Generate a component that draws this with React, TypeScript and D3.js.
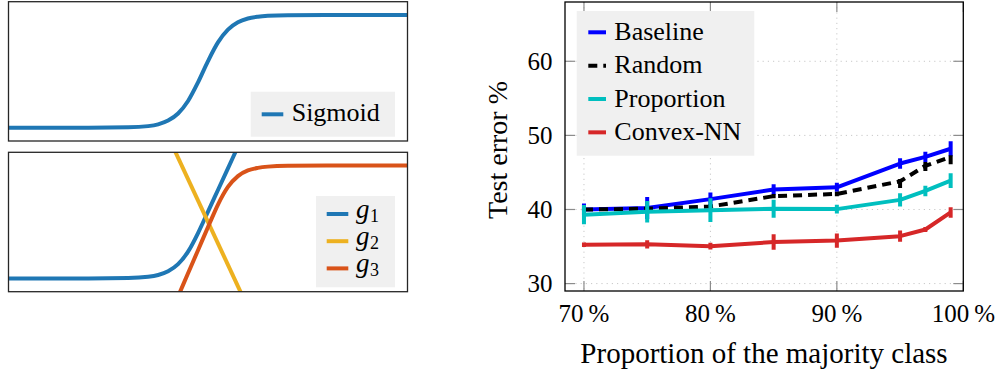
import React from "react";
import * as d3 from "d3";

// ---------- Left panels: function curves ----------
const sigmoidX = [-5, -3, -2, -1.5, -1.25, -1, -0.75, -0.5, -0.25, 0, 0.25, 0.5, 0.75, 1, 1.25, 1.5, 2, 3, 5];
const sigmoidY = [0, 0.0001, 0.003, 0.014, 0.03, 0.063, 0.126, 0.237, 0.402, 0.591, 0.757, 0.87, 0.935, 0.969, 0.985, 0.993, 0.9985, 1, 1];

const g1X = [-5, -3, -2, -1.5, -1.25, -1, -0.75, -0.5, -0.25, -0.12, 0, 0.25, 0.5, 0.75, 1];
const g1Y = [0, 0.0001, 0.003, 0.014, 0.03, 0.063, 0.126, 0.237, 0.402, 0.5, 0.592, 0.784, 0.976, 1.168, 1.36];

const g2X = [-1, 1];
const g2Y = [1.26, -0.26];

const g3X = [-1, -0.75, -0.5, -0.25, 0.055, 0.25, 0.5, 0.75, 1, 1.25, 1.5, 2, 3, 5];
const g3Y = [-0.365, -0.16, 0.045, 0.25, 0.5, 0.655, 0.811, 0.907, 0.957, 0.98, 0.991, 0.998, 1, 1];

const topLegend = ["Sigmoid"];
const bottomLegend = ["1", "2", "3"];

// ---------- Right panel: test error vs proportion ----------
const proportions = [70, 75, 80, 85, 90, 95, 97, 99];
const baselineVals = [40.0, 40.2, 41.4, 42.7, 43.0, 46.2, 47.1, 48.2];
const baselineErr = [0.8, 1.5, 0.9, 0.7, 0.6, 0.7, 0.7, 1.0];
const randomVals = [40.0, 40.1, 40.4, 41.8, 42.1, 43.8, 45.9, 47.1];
const randomErr = [0.3, 0.3, 0.3, 0.3, 0.3, 0.9, 0.7, 1.0];
const proportionVals = [39.3, 39.7, 39.9, 40.1, 40.05, 41.3, 42.5, 43.9];
const proportionErr = [1.3, 1.45, 1.6, 1.2, 0.6, 0.9, 0.7, 1.0];
const convexVals = [35.25, 35.3, 35.05, 35.6, 35.8, 36.4, 37.3, 39.6];
const convexErr = [0.3, 0.55, 0.45, 1.05, 0.95, 0.75, 0.35, 0.7];

const seriesNames = ["Baseline", "Random", "Proportion", "Convex-NN"];
const xTicks = [70, 80, 90, 100];
const xTickLabels = ["70\u2009%", "80\u2009%", "90\u2009%", "100\u2009%"];
const yTicks = [30, 40, 50, 60];

const SERIF = "Liberation Serif";

function zip(xs: number[], ys: number[]): [number, number][] {
  return xs.map((x, i) => [x, ys[i]]);
}

function T(props: any) {
  const { children, style, ...rest } = props;
  return (
    <text fontFamily={SERIF} fill="#000" {...rest} style={{ fontFamily: SERIF, ...(style || {}) }}>
      {children}
    </text>
  );
}

export default function App() {
  const lx = d3.scaleLinear().domain([-5, 5]).range([8.5, 407.5]);
  const lyTop = d3.scaleLinear().domain([-0.118, 1.118]).range([141, 1.7]);
  const lyBot = d3.scaleLinear().domain([-0.118, 1.118]).range([291.7, 152.3]);
  const lineTop = d3.line<[number, number]>().x((d) => lx(d[0])).y((d) => lyTop(d[1])).curve(d3.curveMonotoneX);
  const lineBot = d3.line<[number, number]>().x((d) => lx(d[0])).y((d) => lyBot(d[1])).curve(d3.curveMonotoneX);

  const cBlue = "#1f77b4";
  const cYellow = "#edb120";
  const cOrange = "#d95319";

  const x = d3.scaleLinear().domain([68.5, 100]).range([565, 963.3]);
  const y = d3.scaleLinear().domain([29, 68]).range([291, 2]);
  const [x0, x1] = x.range();
  const [y0, y1] = y.range();

  const series = [
    { name: seriesNames[0], vals: baselineVals, err: baselineErr, color: "#0000ff", dash: undefined as string | undefined },
    { name: seriesNames[1], vals: randomVals, err: randomErr, color: "#000000", dash: "9 6" },
    { name: seriesNames[2], vals: proportionVals, err: proportionErr, color: "#00bfbf", dash: undefined },
    { name: seriesNames[3], vals: convexVals, err: convexErr, color: "#d62728", dash: undefined },
  ];
  const rLine = d3.line<number>().x((_, i) => x(proportions[i])).y((d) => y(d));
  const gLegendColors = [cBlue, cYellow, cOrange];

  return (
    <svg width={1003} height={375} style={{ position: "absolute", left: 0, top: 0, background: "#fff" }}>
      <defs>
        <clipPath id="clipTop">
          <rect x={8.5} y={1.7} width={399} height={139.3} />
        </clipPath>
        <clipPath id="clipBot">
          <rect x={8.5} y={152.3} width={399} height={139.4} />
        </clipPath>
        <clipPath id="clipRight">
          <rect x={x0} y={y1} width={x1 - x0} height={y0 - y1} />
        </clipPath>
      </defs>

      {/* ---------- Top-left panel ---------- */}
      <g clipPath="url(#clipTop)">
        <path d={lineTop(zip(sigmoidX, sigmoidY)) || ""} fill="none" stroke={cBlue} strokeWidth={4} />
      </g>
      <rect x={8.5} y={1.7} width={399} height={139.3} fill="none" stroke="#262626" strokeWidth={1.3} />
      <rect x={250.7} y={91.7} width={144.3} height={45} fill="#f0f0f0" />
      <line x1={261.7} x2={283.3} y1={114.3} y2={114.3} stroke={cBlue} strokeWidth={4} />
      <T x={291.7} y={120.5} fontSize={26}>
        {topLegend[0]}
      </T>

      {/* ---------- Bottom-left panel ---------- */}
      <g clipPath="url(#clipBot)">
        <path d={lineBot(zip(g1X, g1Y)) || ""} fill="none" stroke={cBlue} strokeWidth={4} />
        <path d={lineBot(zip(g2X, g2Y)) || ""} fill="none" stroke={cYellow} strokeWidth={4} />
        <path d={lineBot(zip(g3X, g3Y)) || ""} fill="none" stroke={cOrange} strokeWidth={4} />
      </g>
      <rect x={8.5} y={152.3} width={399} height={139.4} fill="none" stroke="#262626" strokeWidth={1.3} />
      <rect x={316} y={196} width={79} height={91.3} fill="#f0f0f0" />
      {bottomLegend.map((sub, i) => {
        const cy = 214 + i * 27.2;
        return (
          <g key={sub}>
            <line x1={326.7} x2={348.3} y1={cy} y2={cy} stroke={gLegendColors[i]} strokeWidth={4} />
            <T x={356} y={cy + 3.5} fontSize={27}>
              <tspan fontStyle="italic">g</tspan>
              <tspan fontSize={18} dy={4} dx={0.5}>{sub}</tspan>
            </T>
          </g>
        );
      })}

      {/* ---------- Right panel ---------- */}
      {xTicks.filter((t) => t < 100).map((t) => (
        <line key={"gx" + t} x1={x(t)} x2={x(t)} y1={y1} y2={y0} stroke="#c8c8c8" strokeWidth={1} strokeDasharray="1.2 4" />
      ))}
      {yTicks.map((t) => (
        <line key={"gy" + t} x1={x0} x2={x1} y1={y(t)} y2={y(t)} stroke="#c8c8c8" strokeWidth={1} strokeDasharray="1.2 4" />
      ))}
      {xTicks.map((t) => (
        <g key={"tx" + t}>
          <line x1={x(t)} x2={x(t)} y1={y0} y2={y0 - 10} stroke="#8c8c8c" strokeWidth={1.2} />
          <line x1={x(t)} x2={x(t)} y1={y1} y2={y1 + 10} stroke="#8c8c8c" strokeWidth={1.2} />
        </g>
      ))}
      {yTicks.map((t) => (
        <g key={"ty" + t}>
          <line x1={x0} x2={x0 + 10} y1={y(t)} y2={y(t)} stroke="#8c8c8c" strokeWidth={1.2} />
          <line x1={x1} x2={x1 - 10} y1={y(t)} y2={y(t)} stroke="#8c8c8c" strokeWidth={1.2} />
        </g>
      ))}

      <g clipPath="url(#clipRight)">
        {series.map((s) => (
          <g key={s.name}>
            <path d={rLine(s.vals) || ""} fill="none" stroke={s.color} strokeWidth={4} strokeDasharray={s.dash} strokeLinejoin="round" />
            {s.vals.map((v, i) => (
              <line
                key={i}
                x1={x(proportions[i])}
                x2={x(proportions[i])}
                y1={y(v - s.err[i])}
                y2={y(v + s.err[i])}
                stroke={s.color}
                strokeWidth={4}
                strokeDasharray={s.dash}
              />
            ))}
          </g>
        ))}
      </g>

      <rect x={x0} y={y1} width={x1 - x0} height={y0 - y1} fill="none" stroke="#000" strokeWidth={1.3} />

      {xTicks.map((t, i) => (
        <T key={"lx" + t} x={x(t)} y={321.7} textAnchor="middle" fontSize={25}>
          {xTickLabels[i]}
        </T>
      ))}
      {yTicks.map((t) => (
        <T key={"ly" + t} x={552.5} y={y(t) + 8.5} textAnchor="end" fontSize={25}>
          {t}
        </T>
      ))}

      <T x={764} y={363.3} textAnchor="middle" fontSize={29}>
        Proportion of the majority class
      </T>
      <T transform={`translate(507,150) rotate(-90)`} textAnchor="middle" fontSize={28}>
        Test error %
      </T>

      <rect x={576.7} y={11} width={177.6} height={144.7} fill="#f0f0f0" />
      {series.map((s, i) => {
        const base = 40 + i * 33.35;
        return (
          <g key={"leg" + s.name}>
            <line x1={588.3} x2={606} y1={base - 7.7} y2={base - 7.7} stroke={s.color} strokeWidth={4} strokeDasharray={s.dash} />
            <T x={614.3} y={base} fontSize={26}>
              {s.name}
            </T>
          </g>
        );
      })}
    </svg>
  );
}
